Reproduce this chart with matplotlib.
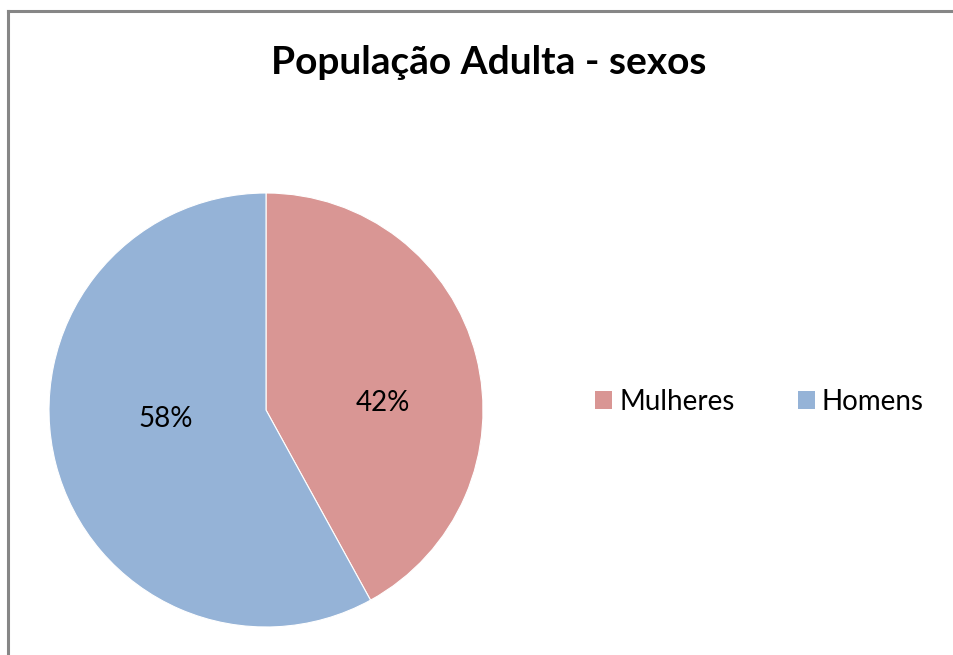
import matplotlib
matplotlib.use("Agg")
import matplotlib.pyplot as plt
from matplotlib.lines import Line2D
from matplotlib.patches import Patch

labels = ["Mulheres", "Homens"]
values = [42, 58]
colors = ["#D99694", "#95B3D7"]
title = "População Adulta - sexos"

plt.rcParams["font.family"] = ["Lato", "DejaVu Sans"]

W, H = 954, 655
fig = plt.figure(figsize=(W / 100, H / 100), dpi=100)

# frame of the chart area (top and left edges visible)
fig.add_artist(Line2D([8 / W, 8 / W], [0, 1 - 11 / H], color="#868686", lw=2.2))
fig.add_artist(Line2D([8 / W, 1], [1 - 11 / H, 1 - 11 / H], color="#868686", lw=2.2))

ax = fig.add_axes([49 / W, 28 / H, 434 / W, 434 / H])
wedges, texts, autotexts = ax.pie(
    values, colors=colors, startangle=90, counterclock=False,
    autopct="%1.0f%%", radius=1.0,
    wedgeprops=dict(edgecolor="white", linewidth=0.8),
    textprops=dict(fontsize=20, color="black"),
)
ax.set_xlim(-1, 1)
ax.set_ylim(-1, 1)
ax.set_aspect("equal")
ax.axis("off")

# Excel-style label placement
autotexts[0].set_position((0.54, 0.03))
autotexts[1].set_position((-0.46, -0.04))

fig.text(489 / W, 1 - 62 / H, title, ha="center", va="center",
         fontsize=28, fontweight="bold")

handles = [Patch(facecolor=c, edgecolor="none") for c in colors]
fig.legend(handles, labels, loc="center left", bbox_to_anchor=(570 / W, 1 - 402 / H),
           ncol=2, frameon=False, fontsize=20, handlelength=0.62, handleheight=0.62,
           handletextpad=0.25, columnspacing=2.27)

fig.savefig("out.png", dpi=100)
